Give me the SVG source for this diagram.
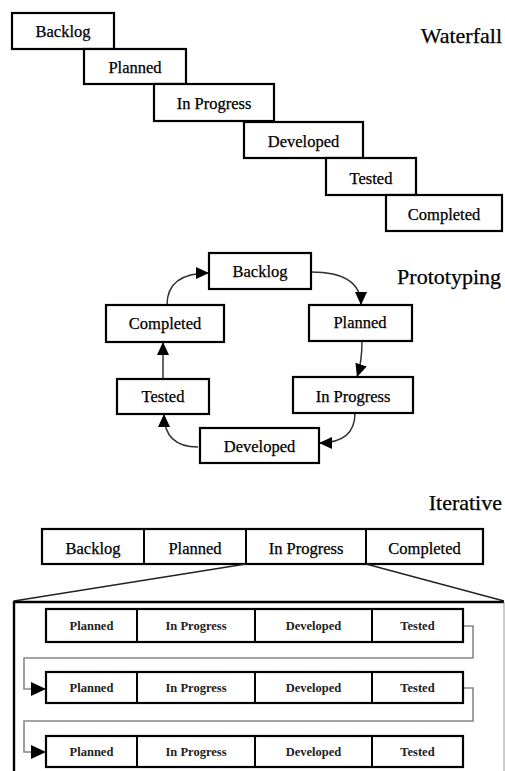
<svg xmlns="http://www.w3.org/2000/svg" width="505" height="771" viewBox="0 0 505 771">
<style>
.box{fill:#fff;stroke:#000;stroke-width:2.2}
.t{font-size:16.5px;fill:#000;stroke:#000;stroke-width:0.25;text-anchor:middle}
.s{font-size:12.5px;font-weight:bold;fill:#222;text-anchor:middle}
.title{font-size:22px;fill:#000;stroke:#000;stroke-width:0.25;text-anchor:end}
.arc{fill:none;stroke:#333;stroke-width:1.5}
.conn{fill:none;stroke:#888;stroke-width:1.6}
.zoom{fill:none;stroke:#222;stroke-width:1.3}
</style>
<defs>
<marker id="ah" markerUnits="userSpaceOnUse" markerWidth="13" markerHeight="12" refX="13" refY="6" orient="auto">
<path d="M0,0 L13,6 L0,12 z" fill="#000"/>
</marker>
<marker id="ah2" markerUnits="userSpaceOnUse" markerWidth="15" markerHeight="14" refX="15" refY="7" orient="auto">
<path d="M0,0 L15,7 L0,14 z" fill="#000"/>
</marker>
</defs>

<text class="title" font-family="Liberation Serif" x="502" y="43">Waterfall</text>
<text class="title" font-family="Liberation Serif" x="501" y="284">Prototyping</text>
<text class="title" font-family="Liberation Serif" x="502" y="510">Iterative</text>

<g id="wf-backlog"><rect class="box" x="12" y="13" width="102" height="36"/><text class="t" font-family="Liberation Serif" x="63" y="37">Backlog</text></g>
<g id="wf-planned"><rect class="box" x="84" y="49" width="102" height="35"/><text class="t" font-family="Liberation Serif" x="135" y="73">Planned</text></g>
<g id="wf-inprogress"><rect class="box" x="154" y="84" width="120" height="37"/><text class="t" font-family="Liberation Serif" x="214" y="109">In Progress</text></g>
<g id="wf-developed"><rect class="box" x="244" y="122" width="119" height="36"/><text class="t" font-family="Liberation Serif" x="303.5" y="147">Developed</text></g>
<g id="wf-tested"><rect class="box" x="326" y="158" width="90" height="37"/><text class="t" font-family="Liberation Serif" x="371" y="184">Tested</text></g>
<g id="wf-completed"><rect class="box" x="386" y="195" width="116" height="36"/><text class="t" font-family="Liberation Serif" x="444" y="220">Completed</text></g>

<g id="proto-connectors">
<path class="arc" d="M167,305 Q167,273 209,273" marker-end="url(#ah)"/>
<path class="arc" d="M311,272 Q361,272 361,305" marker-end="url(#ah)"/>
<path class="arc" d="M362,341 Q362,362 357,377" marker-end="url(#ah)"/>
<path class="arc" d="M355,413 Q355,443 319,443" marker-end="url(#ah)"/>
<path class="arc" d="M198,447 Q164,447 164,414" marker-end="url(#ah)"/>
<path class="arc" d="M163,379 L163,342" marker-end="url(#ah)"/>
</g>

<g id="pr-backlog"><rect class="box" x="209" y="253" width="102" height="36"/><text class="t" font-family="Liberation Serif" x="260" y="277">Backlog</text></g>
<g id="pr-planned"><rect class="box" x="309" y="305" width="103" height="36"/><text class="t" font-family="Liberation Serif" x="360" y="328">Planned</text></g>
<g id="pr-inprogress"><rect class="box" x="293" y="377" width="120" height="36"/><text class="t" font-family="Liberation Serif" x="353" y="402">In Progress</text></g>
<g id="pr-developed"><rect class="box" x="200" y="428" width="119" height="35"/><text class="t" font-family="Liberation Serif" x="259.5" y="452">Developed</text></g>
<g id="pr-tested"><rect class="box" x="117" y="379" width="92" height="35"/><text class="t" font-family="Liberation Serif" x="163" y="402">Tested</text></g>
<g id="pr-completed"><rect class="box" x="106" y="305" width="118" height="37"/><text class="t" font-family="Liberation Serif" x="165" y="329">Completed</text></g>

<g id="it-bar">
<rect class="box" x="42" y="529" width="441" height="35"/>
<line x1="144" y1="529" x2="144" y2="564" stroke="#000" stroke-width="2"/>
<line x1="246" y1="529" x2="246" y2="564" stroke="#000" stroke-width="2"/>
<line x1="366" y1="529" x2="366" y2="564" stroke="#000" stroke-width="2"/>
<text class="t" font-family="Liberation Serif" x="93" y="554">Backlog</text>
<text class="t" font-family="Liberation Serif" x="195" y="554">Planned</text>
<text class="t" font-family="Liberation Serif" x="306" y="554">In Progress</text>
<text class="t" font-family="Liberation Serif" x="424.5" y="554">Completed</text>
</g>

<g id="it-zoom">
<line class="zoom" x1="246" y1="564" x2="14" y2="601"/>
<line class="zoom" x1="366" y1="564" x2="504" y2="601"/>
<path d="M14,775 V602 H504" fill="none" stroke="#000" stroke-width="2.4"/>
<line x1="504" y1="602" x2="504" y2="771" stroke="#999" stroke-width="1"/>
</g>

<g id="it-connectors">
<path class="conn" d="M463,626 H473 V658 H24 V689 H46" marker-end="url(#ah2)"/>
<path class="conn" d="M463,688 H473 V721 H24 V752 H46" marker-end="url(#ah2)"/>
</g>

<g id="it-row1">
<rect class="box" x="46" y="609" width="417" height="33" stroke-width="2.5"/>
<line x1="137" y1="609" x2="137" y2="642" stroke="#000" stroke-width="2"/>
<line x1="255" y1="609" x2="255" y2="642" stroke="#000" stroke-width="2"/>
<line x1="372" y1="609" x2="372" y2="642" stroke="#000" stroke-width="2"/>
<text class="s" font-family="Liberation Serif" x="91.5" y="630">Planned</text>
<text class="s" font-family="Liberation Serif" x="196" y="630">In Progress</text>
<text class="s" font-family="Liberation Serif" x="313.5" y="630">Developed</text>
<text class="s" font-family="Liberation Serif" x="417.5" y="630">Tested</text>
</g>
<g id="it-row2">
<rect class="box" x="46" y="672" width="417" height="31" stroke-width="2.5"/>
<line x1="137" y1="672" x2="137" y2="703" stroke="#000" stroke-width="2"/>
<line x1="255" y1="672" x2="255" y2="703" stroke="#000" stroke-width="2"/>
<line x1="372" y1="672" x2="372" y2="703" stroke="#000" stroke-width="2"/>
<text class="s" font-family="Liberation Serif" x="91.5" y="692">Planned</text>
<text class="s" font-family="Liberation Serif" x="196" y="692">In Progress</text>
<text class="s" font-family="Liberation Serif" x="313.5" y="692">Developed</text>
<text class="s" font-family="Liberation Serif" x="417.5" y="692">Tested</text>
</g>
<g id="it-row3">
<rect class="box" x="46" y="736" width="417" height="31" stroke-width="2.5"/>
<line x1="137" y1="736" x2="137" y2="767" stroke="#000" stroke-width="2"/>
<line x1="255" y1="736" x2="255" y2="767" stroke="#000" stroke-width="2"/>
<line x1="372" y1="736" x2="372" y2="767" stroke="#000" stroke-width="2"/>
<text class="s" font-family="Liberation Serif" x="91.5" y="756">Planned</text>
<text class="s" font-family="Liberation Serif" x="196" y="756">In Progress</text>
<text class="s" font-family="Liberation Serif" x="313.5" y="756">Developed</text>
<text class="s" font-family="Liberation Serif" x="417.5" y="756">Tested</text>
</g>
</svg>
